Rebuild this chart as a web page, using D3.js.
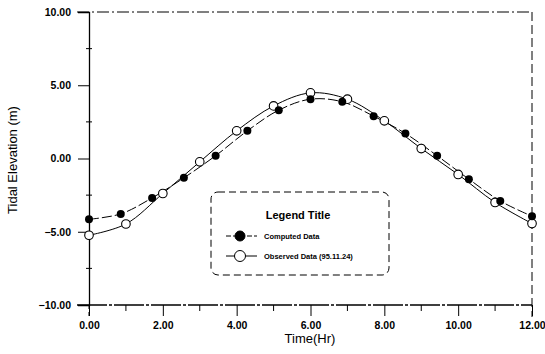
<!DOCTYPE html>
<html><head><meta charset="utf-8">
<script src="https://cdn.jsdelivr.net/npm/d3@7"></script>
<style>body{margin:0;background:#fff}svg{display:block}text{font-family:"Liberation Sans",Arial,sans-serif;fill:#000}</style>
</head><body><svg id="c" width="545" height="354"></svg>
<script>
const computedTime = [0,0.86,1.71,2.57,3.43,4.29,5.14,6.00,6.86,7.71,8.57,9.43,10.29,11.14,12.00];
const computedElev = [-4.15,-3.78,-2.69,-1.32,0.19,1.89,3.30,4.05,3.87,2.89,1.71,0.19,-1.41,-2.90,-3.94];
const observedTime = [0,1,2,3,4,5,6,7,8,9,10,11,12];
const observedElev = [-5.24,-4.47,-2.39,-0.23,1.89,3.59,4.48,4.05,2.57,0.68,-1.09,-3.00,-4.44];
const xTicks = [0,2,4,6,8,10,12];
const yTicks = [-10,-5,0,5,10];
const xMinor = [1,3,5,7,9,11];
const yMinor = [-7.5,-2.5,2.5,7.5];
const legendItems = ["Computed Data","Observed Data (95.11.24)"];

const svg = d3.select("#c");
const L=89,R=532,T=12,B=305;
const x = d3.scaleLinear().domain([0,12]).range([L,R]);
const y = d3.scaleLinear().domain([-10,10]).range([B,T]);

// frame: top and right dashed
svg.append("line").attr("x1",77).attr("x2",R).attr("y1",T).attr("y2",T).attr("stroke","#000").attr("stroke-width",1).attr("stroke-dasharray","12,3,2,3");
svg.append("line").attr("x1",R).attr("x2",R).attr("y1",T).attr("y2",317).attr("stroke","#000").attr("stroke-width",1).attr("stroke-dasharray","9,4");

// y axis
const ya = svg.append("g").attr("transform",`translate(${L},0)`)
  .call(d3.axisLeft(y).tickValues(yTicks).tickSize(11).tickFormat(d3.format(".2f")));
ya.select(".domain").attr("stroke-width",1.3);
ya.selectAll("text").attr("font-size",10.5).attr("font-weight","bold").attr("x",-18);
svg.append("line").attr("x1",L).attr("x2",L).attr("y1",B).attr("y2",317).attr("stroke","#000").attr("stroke-dasharray","4,3");
svg.append("g").selectAll("line").data(yMinor).join("line")
  .attr("x1",L-3).attr("x2",L+3).attr("y1",d=>y(d)).attr("y2",d=>y(d)).attr("stroke","#000");

// x axis
const xa = svg.append("g").attr("transform",`translate(0,${B})`)
  .call(d3.axisBottom(x).tickValues(xTicks).tickSize(11).tickFormat(d3.format(".2f")));
xa.select(".domain").remove();
xa.selectAll("text").attr("font-size",10.5).attr("font-weight","bold").attr("y",17);
svg.append("line").attr("x1",77).attr("x2",R).attr("y1",B).attr("y2",B).attr("stroke","#000").attr("stroke-width",1.3).attr("stroke-dasharray","30,2,3,2");
svg.append("g").selectAll("line").data(xMinor).join("line")
  .attr("x1",d=>x(d)).attr("x2",d=>x(d)).attr("y1",B).attr("y2",B+6).attr("stroke","#000");

// axis titles
svg.append("text").attr("x",310).attr("y",343).attr("text-anchor","middle").attr("font-size",13).text("Time(Hr)");
svg.append("text").attr("transform","translate(17,160) rotate(-90)").attr("text-anchor","middle").attr("font-size",13).text("Tidal Elevation (m)");

// lines
const comp = computedTime.map((t,i)=>[t,computedElev[i]]);
const obs = observedTime.map((t,i)=>[t,observedElev[i]]);
const line = d3.line().x(d=>x(d[0])).y(d=>y(d[1])).curve(d3.curveCatmullRom);
svg.append("path").attr("d",line(comp)).attr("fill","none").attr("stroke","#000").attr("stroke-width",1).attr("stroke-dasharray","10,3");
svg.append("path").attr("d",line(obs)).attr("fill","none").attr("stroke","#000").attr("stroke-width",1);
svg.append("g").selectAll("circle").data(obs).join("circle")
  .attr("cx",d=>x(d[0])).attr("cy",d=>y(d[1])).attr("r",4.3).attr("fill","#fff").attr("stroke","#000").attr("stroke-width",1.1);
svg.append("g").selectAll("circle").data(comp).join("circle")
  .attr("cx",d=>x(d[0])).attr("cy",d=>y(d[1])).attr("r",4).attr("fill","#000");

// legend
const lg = svg.append("g");
lg.append("rect").attr("x",211).attr("y",192).attr("width",178).attr("height",83).attr("rx",7)
  .attr("fill","#fff").attr("stroke","#000").attr("stroke-width",1).attr("stroke-dasharray","7,4");
lg.append("text").attr("x",298).attr("y",219).attr("text-anchor","middle").attr("font-size",11).attr("font-weight","bold").text("Legend Title");
[0,1].forEach(i=>{
  const yy = 236 + i*20;
  lg.append("line").attr("x1",226).attr("x2",257).attr("y1",yy).attr("y2",yy).attr("stroke","#000").attr("stroke-dasharray", i===0?"5,2":null);
  lg.append("circle").attr("cx",240).attr("cy",yy).attr("r",i===0?5:5.5).attr("fill",i===0?"#000":"#fff").attr("stroke","#000");
  lg.append("text").attr("x",264).attr("y",yy+3).attr("font-size",7.5).attr("font-weight","bold").text(legendItems[i]);
});
</script></body></html>
